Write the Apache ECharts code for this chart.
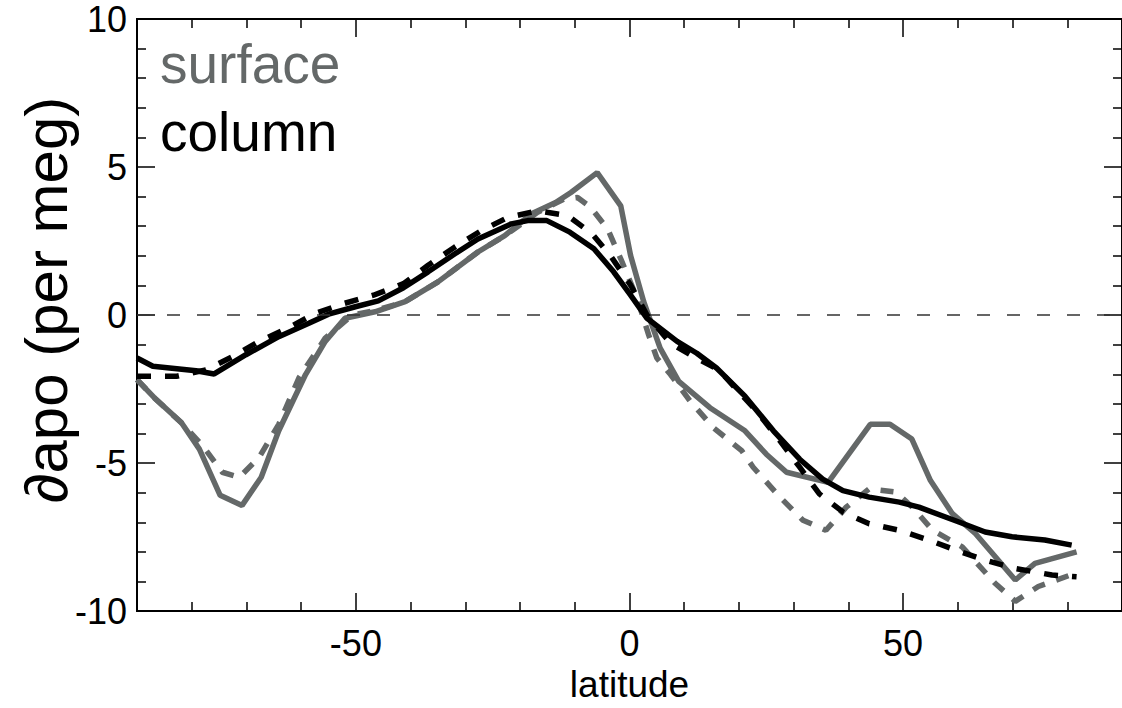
<!DOCTYPE html>
<html>
<head>
<meta charset="utf-8">
<script src="https://cdn.jsdelivr.net/npm/echarts@6/dist/echarts.min.js"></script>
<style>
html,body{margin:0;padding:0;background:#fff;}
#chart{width:1122px;height:708px;}
</style>
</head>
<body>
<div id="chart"></div>
<script>
// ---- data ----
const surfaceSolidLat = [-90, -86.8, -81.9, -78.6, -74.8, -70.8, -67.3, -64.1, -59.2, -55.6, -52.0, -46.5, -41.0, -35.0, -27.7, -22.8, -18.0, -13.5, -10.7, -5.9, -1.6, 0.2, 2.6, 5.6, 9.0, 14.7, 21.1, 25.0, 28.7, 36.3, 44.0, 47.6, 51.6, 55.0, 59.0, 63.2, 70.5, 74.1, 81.7];
const surfaceSolidVal = [-2.18, -2.8, -3.63, -4.53, -6.09, -6.43, -5.48, -3.91, -2.01, -0.89, -0.11, 0.11, 0.45, 1.12, 2.13, 2.68, 3.41, 3.8, 4.14, 4.81, 3.69, 2.01, 0.45, -1.12, -2.24, -3.13, -3.91, -4.7, -5.31, -5.65, -3.69, -3.69, -4.19, -5.59, -6.71, -7.38, -8.95, -8.39, -8.0];

const surfaceDashLat = [-90, -86.8, -81.6, -78, -74.4, -71.3, -67.7, -64.1, -60.4, -55.6, -50.7, -46.5, -41.0, -35.0, -27.7, -22.8, -16.8, -11.9, -9.5, -7.1, -4.0, -1.6, 1.4, 3.5, 5.0, 7.5, 11.1, 15.3, 20.5, 22.6, 27.5, 31.7, 35.9, 39.6, 43.8, 48.7, 51.7, 55.4, 60.8, 66.8, 70.5, 74.7, 81.5];
const surfaceDashVal = [-2.18, -2.8, -3.69, -4.42, -5.31, -5.48, -4.81, -3.69, -2.12, -0.78, 0.0, 0.15, 0.45, 1.12, 2.13, 2.68, 3.47, 3.92, 3.97, 3.64, 2.91, 1.9, 0.56, -0.67, -1.45, -2.01, -2.91, -3.8, -4.58, -5.14, -6.15, -6.93, -7.27, -6.49, -5.87, -5.98, -6.49, -7.27, -7.83, -9.06, -9.67, -9.17, -8.72];

const columnSolidLat = [-90, -87.1, -79.2, -75.9, -70.1, -64.1, -58.6, -55.0, -50.1, -45.9, -41.3, -36.8, -31.9, -27.7, -21.6, -18.6, -15.1, -10.9, -6.5, -2.9, 0.2, 3.2, 8.7, 12.3, 15.9, 21.1, 26.3, 31.1, 35.3, 39.0, 43.8, 49.3, 52.9, 60.2, 65.0, 69.9, 75.9, 80.8];
const columnSolidVal = [-1.45, -1.73, -1.88, -1.99, -1.34, -0.73, -0.28, 0.03, 0.28, 0.48, 0.92, 1.46, 2.07, 2.57, 3.08, 3.19, 3.19, 2.8, 2.24, 1.46, 0.67, -0.11, -0.89, -1.29, -1.79, -2.74, -3.91, -4.87, -5.54, -5.93, -6.15, -6.32, -6.49, -6.99, -7.33, -7.49, -7.6, -7.77];

const columnDashLat = [-90, -82.8, -77.4, -72.5, -67.7, -62.5, -57.4, -52.2, -46.8, -41.3, -36.8, -31.9, -27.1, -22.2, -16.8, -11.3, -6.8, -3.5, 0.2, 3.2, 7.5, 11.7, 16.3, 23.2, 27.5, 31.1, 34.7, 39.0, 43.8, 49.3, 54.7, 59.6, 65.0, 70.5, 77.2, 81.7];
const columnDashVal = [-2.07, -2.07, -1.85, -1.4, -0.89, -0.45, 0.06, 0.39, 0.67, 1.06, 1.68, 2.3, 2.85, 3.3, 3.52, 3.36, 2.74, 2.01, 1.01, 0.0, -0.95, -1.4, -1.85, -3.24, -4.25, -5.14, -6.04, -6.65, -7.05, -7.27, -7.6, -7.94, -8.28, -8.56, -8.78, -8.84];

const xMajorTicks = [-50, 0, 50];
const xMinorTicks = [-80, -70, -60, -40, -30, -20, -10, 10, 20, 30, 40, 60, 70, 80];
const legendLabels = ['surface', 'column'];
const yTitle = '\u2202apo (per meg)';
const xTitle = 'latitude';

// ---- chart ----
const FONT = 'Liberation Sans, Arial, Helvetica, sans-serif';
const GRAY = '#646868';
const LW = 5.5;
const pairs = (xs, ys) => xs.map((x, i) => [x, ys[i]]);

const chart = echarts.init(document.getElementById('chart'), null, {renderer: 'svg'});

function xAxisDef(pos, ticks, len, withLabel) {
  return {
    type: 'value', min: -90, max: 90, position: pos,
    axisLine: {show: true, onZero: false, lineStyle: {color: '#000', width: 2}},
    axisTick: {show: true, inside: true, length: len, customValues: ticks, lineStyle: {color: '#000', width: 1.5}},
    axisLabel: withLabel ? {show: true, customValues: ticks, fontSize: 36, fontFamily: FONT, color: '#000', margin: 14} : {show: false},
    splitLine: {show: false},
    name: withLabel ? xTitle : '',
    nameLocation: 'middle', nameGap: 54,
    nameTextStyle: {fontSize: 37, fontFamily: FONT, color: '#000'}
  };
}
function yAxisDef(pos, withLabel) {
  return {
    type: 'value', min: -10, max: 10, interval: 5, position: pos,
    axisLine: {show: true, onZero: false, lineStyle: {color: '#000', width: 2}},
    axisTick: {show: true, inside: true, length: 18, lineStyle: {color: '#000', width: 1.5}},
    minorTick: {show: true, splitNumber: 5, length: 9, lineStyle: {color: '#000', width: 1.5}},
    axisLabel: withLabel ? {show: true, fontSize: 36, fontFamily: FONT, color: '#000', margin: 10} : {show: false},
    splitLine: {show: false}, minorSplitLine: {show: false}
  };
}

chart.setOption({
  animation: false,
  backgroundColor: '#fff',
  grid: {left: 137, right: -5, top: 19, bottom: 94, containLabel: false},
  xAxis: [
    xAxisDef('bottom', xMajorTicks, 18, true),
    xAxisDef('bottom', xMinorTicks, 9, false),
    xAxisDef('top', xMajorTicks, 18, false),
    xAxisDef('top', xMinorTicks, 9, false)
  ],
  yAxis: [yAxisDef('left', true), yAxisDef('right', false)],
  series: [
    {
      name: 'surface', type: 'line', xAxisIndex: 0, yAxisIndex: 0, symbol: 'none', smooth: false,
      data: pairs(surfaceSolidLat, surfaceSolidVal),
      lineStyle: {color: GRAY, width: LW}, z: 2,
      markLine: {silent: true, symbol: 'none', label: {show: false},
        lineStyle: {type: [13, 17], color: '#333', width: 1.5},
        data: [{yAxis: 0}]}
    },
    {
      name: 'surface dashed', type: 'line', xAxisIndex: 0, yAxisIndex: 0, symbol: 'none', smooth: false,
      data: pairs(surfaceDashLat, surfaceDashVal),
      lineStyle: {color: GRAY, width: LW, type: [13, 12]}, z: 3
    },
    {
      name: 'column', type: 'line', xAxisIndex: 0, yAxisIndex: 0, symbol: 'none', smooth: false,
      data: pairs(columnSolidLat, columnSolidVal),
      lineStyle: {color: '#000', width: LW}, z: 4
    },
    {
      name: 'column dashed', type: 'line', xAxisIndex: 0, yAxisIndex: 0, symbol: 'none', smooth: false,
      data: pairs(columnDashLat, columnDashVal),
      lineStyle: {color: '#000', width: LW, type: [14, 14]}, z: 5
    }
  ],
  graphic: [
    {type: 'text', x: 46, y: 300, rotation: Math.PI / 2,
      style: {text: yTitle, fontSize: 60, fontFamily: FONT, fill: '#000', align: 'center', verticalAlign: 'middle'}},
    {type: 'text', x: 160, y: 64,
      style: {text: legendLabels[0], fontSize: 55, fontFamily: FONT, fill: GRAY, align: 'left', verticalAlign: 'middle'}},
    {type: 'text', x: 160, y: 132,
      style: {text: legendLabels[1], fontSize: 55, fontFamily: FONT, fill: '#000', align: 'left', verticalAlign: 'middle'}}
  ]
});
</script>
</body>
</html>
